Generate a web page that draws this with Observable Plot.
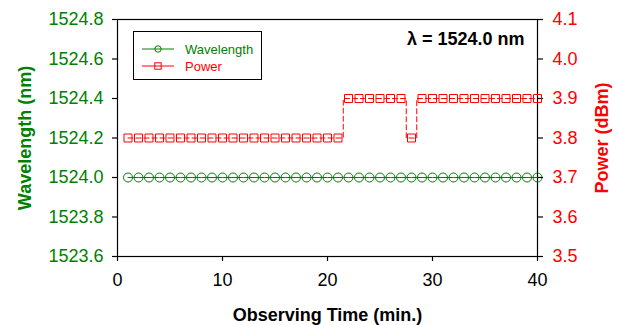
<!DOCTYPE html>
<html>
<head>
<meta charset="utf-8">
<script src="https://cdn.jsdelivr.net/npm/d3@7"></script>
<script src="https://cdn.jsdelivr.net/npm/@observablehq/plot@0.6"></script>
<style>
  html, body { margin: 0; padding: 0; background: #fff; }
  #chart { position: relative; width: 619px; height: 325px; font-family: "Liberation Sans", Arial, sans-serif; }
  #chart > svg { position: absolute; left: 0; top: 0; }
  g[aria-label="x-axis label"] text, g[aria-label="y-axis label"] text { font-weight: bold; }
  #legend { position: absolute; left: 133px; top: 31px; width: 129px; height: 49px; border: 1px solid #000; box-sizing: border-box; background: #fff; font-size: 13px; }
  #legend .row { position: absolute; left: 8px; height: 16px; display: flex; align-items: center; }
  #legend .row span { margin-left: 11px; }
</style>
</head>
<body>
<div id="chart"></div>
<script>
// ---- data ----
const time = d3.range(1, 41); // observing time, min (1..40)
const wavelength = [
  1524.0,1524.0,1524.0,1524.0,1524.0,1524.0,1524.0,1524.0,1524.0,1524.0,
  1524.0,1524.0,1524.0,1524.0,1524.0,1524.0,1524.0,1524.0,1524.0,1524.0,
  1524.0,1524.0,1524.0,1524.0,1524.0,1524.0,1524.0,1524.0,1524.0,1524.0,
  1524.0,1524.0,1524.0,1524.0,1524.0,1524.0,1524.0,1524.0,1524.0,1524.0
];
const power = [
  3.8,3.8,3.8,3.8,3.8,3.8,3.8,3.8,3.8,3.8,
  3.8,3.8,3.8,3.8,3.8,3.8,3.8,3.8,3.8,3.8,
  3.8,3.9,3.9,3.9,3.9,3.9,3.9,3.8,3.9,3.9,
  3.9,3.9,3.9,3.9,3.9,3.9,3.9,3.9,3.9,3.9
];
const timeTicks = [0, 10, 20, 30, 40];
const wavelengthTicks = [1523.6, 1523.8, 1524.0, 1524.2, 1524.4, 1524.6, 1524.8];
const powerTicks = [3.5, 3.6, 3.7, 3.8, 3.9, 4.0, 4.1];
const seriesNames = ["Wavelength", "Power"];
const annotation = "λ = 1524.0 nm";

const GREEN = "#008000", RED = "#ff0000";
const wlData = time.map((t, i) => ({t, v: wavelength[i]}));
const pwData = time.map((t, i) => ({t, v: power[i]}));

const common = {
  width: 619, height: 325,
  marginLeft: 117, marginRight: 82, marginTop: 19, marginBottom: 69,
  style: {fontFamily: "'Liberation Sans', Arial, sans-serif", fontSize: "18px", background: "transparent", overflow: "visible"},
  x: {domain: [0, 40]}
};

const p1 = Plot.plot({
  ...common,
  y: {domain: [1523.6, 1524.8]},
  marks: [
    Plot.frame({stroke: "#000", strokeWidth: 1.2}),
    Plot.axisX({ticks: timeTicks, tickSize: 5, tickPadding: 12, tickFormat: d => String(d), color: "#000", strokeWidth: 1.2,
      label: "Observing Time (min.)", labelAnchor: "center", labelArrow: "none", labelOffset: 64}),
    Plot.axisY({anchor: "left", ticks: wavelengthTicks, tickSize: 5, tickPadding: 9, tickFormat: d => d.toFixed(1), color: GREEN, stroke: "#000", strokeWidth: 1.2,
      label: "Wavelength (nm)", labelAnchor: "center", labelArrow: "none", labelOffset: 99}),
    Plot.line(wlData, {x: "t", y: "v", stroke: GREEN, strokeWidth: 1}),
    Plot.dot(wlData, {x: "t", y: "v", r: 4.5, stroke: GREEN, strokeWidth: 1, fill: "none", symbol: "circle"}),
    Plot.text([annotation], {frameAnchor: "top-right", dx: -13, dy: 13, lineAnchor: "top", fontSize: 18, fontWeight: "bold", fill: "#000", text: d => d})
  ]
});

const p2 = Plot.plot({
  ...common,
  y: {domain: [3.5, 4.1]},
  marks: [
    Plot.axisX({ticks: [], label: null, tickSize: 0}),
    Plot.axisY({anchor: "right", ticks: powerTicks, tickSize: 5, tickPadding: 10, tickFormat: d => d.toFixed(1), color: RED, stroke: "#000", strokeWidth: 1.2,
      label: "Power (dBm)", labelAnchor: "center", labelArrow: "none", labelOffset: 70}),
    Plot.line(pwData, {x: "t", y: "v", stroke: RED, strokeWidth: 1, strokeDasharray: "5,3", curve: "step"}),
    Plot.dot(pwData, {x: "t", y: "v", r: 4.5, stroke: RED, strokeWidth: 1, fill: "none", symbol: "square"})
  ]
});

const chart = document.getElementById("chart");
chart.appendChild(p1);
chart.appendChild(p2);

// legend
const legend = document.createElement("div");
legend.id = "legend";
const sym = (color, shape) => {
  const s = shape === "circle"
    ? `<circle cx="16" cy="6" r="3.2" fill="none" stroke="${color}"/>`
    : `<rect x="12.8" y="2.8" width="6.4" height="6.4" fill="none" stroke="${color}"/>`;
  return `<svg width="32" height="12" style="overflow:visible"><line x1="0" x2="32" y1="6" y2="6" stroke="${color}" stroke-width="1"/>${s}</svg>`;
};
legend.innerHTML =
  `<div class="row" style="top:9px;color:${GREEN}">${sym(GREEN, "circle")}<span>${seriesNames[0]}</span></div>` +
  `<div class="row" style="top:26px;color:${RED}">${sym(RED, "square")}<span>${seriesNames[1]}</span></div>`;
chart.appendChild(legend);
</script>
</body>
</html>
